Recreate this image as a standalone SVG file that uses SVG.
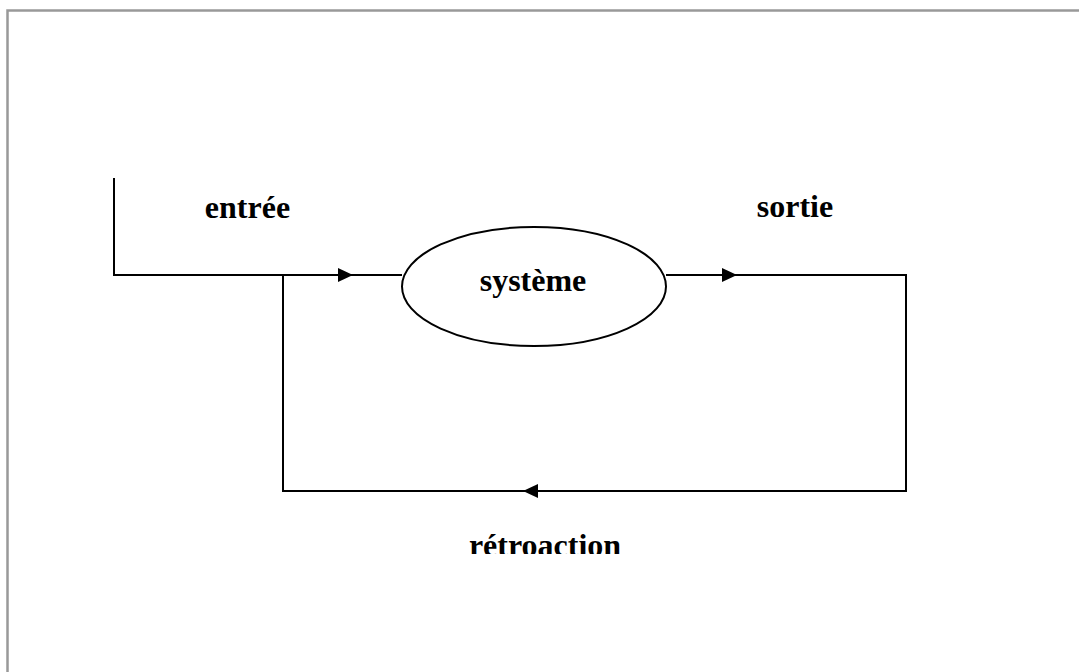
<svg xmlns="http://www.w3.org/2000/svg" width="1079" height="672" viewBox="0 0 1079 672">
<style>
.ln{stroke:#000;stroke-width:2;fill:none}
.lbl{font-family:"Liberation Serif","Times New Roman",serif;font-weight:bold;font-size:32px;fill:#000}
.frame{stroke:#999;stroke-width:2.5;fill:none}
</style>
<defs>
<marker id="arr" markerWidth="15" markerHeight="14" refX="15" refY="7" orient="auto" markerUnits="userSpaceOnUse">
<path d="M0,0 L15,7 L0,14 Z" fill="#000"/>
</marker>
<clipPath id="clipR"><rect x="0" y="0" width="1079" height="554"/></clipPath>
</defs>
<rect width="1079" height="672" fill="#fff"/>
<path class="frame" d="M7.5,672 V10.5 H1079"/>
<g id="connectors">
<path class="ln" d="M114,178 V275 H402"/>
<path class="ln" d="M114,275 H353" marker-end="url(#arr)"/>
<path class="ln" d="M666,275 H737" marker-end="url(#arr)"/>
<path class="ln" d="M737,275 H906 V491 H283 V275"/>
<path class="ln" d="M714,491 H523" marker-end="url(#arr)"/>
</g>
<g id="systeme">
<ellipse cx="534" cy="286.5" rx="132" ry="59.5" fill="#fff" stroke="#000" stroke-width="2"/>
<text class="lbl" x="533" y="291" text-anchor="middle">système</text>
</g>
<g id="entree"><text class="lbl" x="247.5" y="218" text-anchor="middle">entrée</text></g>
<g id="sortie"><text class="lbl" x="795" y="217" text-anchor="middle">sortie</text></g>
<g id="retroaction" clip-path="url(#clipR)"><text class="lbl" x="545" y="556" text-anchor="middle">rétroaction</text></g>
</svg>
